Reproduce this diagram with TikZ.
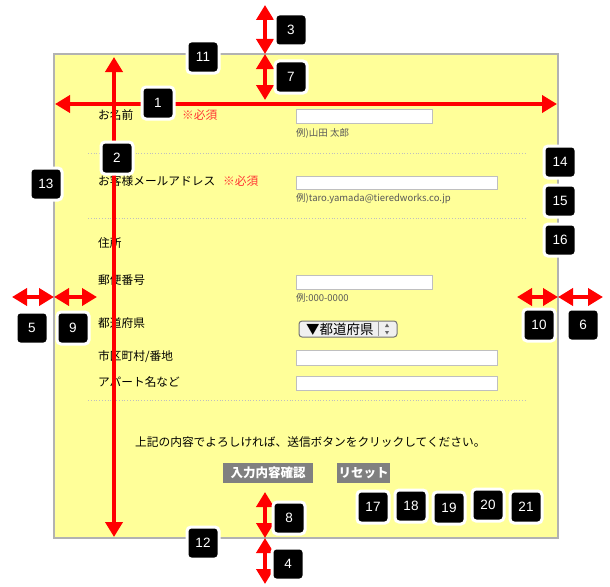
\documentclass[tikz,border=0pt]{standalone}
\usepackage{fontspec}
\setmainfont{Noto Sans CJK JP}
\setsansfont{Liberation Sans}
\usetikzlibrary{arrows.meta}

\tikzset{
  tag/.style={draw=white, line width=3pt, fill=black, rounded corners=4pt,
    minimum size=32pt, inner sep=0pt, text=white,
    font=\sffamily\fontsize{13.5}{14}\selectfont},
  dim/.style={red, line width=4pt,
    {Triangle[width=17pt,length=15pt]}-{Triangle[width=17pt,length=15pt]}},
  field/.style={draw=black!25, fill=white, line width=1pt},
  lbl/.style={anchor=west, inner sep=0pt, font=\fontsize{11.7}{12}\selectfont},
  must/.style={anchor=west, inner sep=0pt, text=red!80, font=\fontsize{11.7}{12}\selectfont},
  hint/.style={anchor=west, inner sep=0pt, text=black!65, font=\fontsize{9.5}{10}\selectfont},
  btn/.style={fill=black!50, text=white, inner sep=0pt, minimum height=20pt,
    font=\bfseries\fontsize{12.5}{13}\selectfont},
  sep/.style={black!25, dotted, line width=0.8pt},
}

\begin{document}
\begin{tikzpicture}[x=1pt, y=-1pt]
    \useasboundingbox (0,0) rectangle (610,586);

    % Panel
    \draw[fill={rgb,255:red,255;green,255;blue,153}, draw=black!30, line width=1.5pt] (54,54) rectangle (558,538);

    % Name
    \node[lbl] (name) at (98,115) {お名前};
    \node[must] (name req) at (182,115) {※必須};
    \draw[field] (296,109) rectangle (432,123);
    \node[hint] (name ex) at (296,133) {例)山田 太郎};
    \draw[sep] (88,153) -- (527,153);

    % Mail
    \node[lbl] (mail) at (98,181) {お客様メールアドレス};
    \node[must] (mail req) at (223,181) {※必須};
    \draw[field] (296,176) rectangle (497,189);
    \node[hint] (mail ex) at (296,199) {例)taro.yamada@tieredworks.co.jp};
    \draw[sep] (88,218) -- (527,218);

    % Address
    \node[lbl] (addr) at (98,243) {住所};
    \node[lbl] (zip) at (98,280) {郵便番号};
    \draw[field] (296,275) rectangle (432,289);
    \node[hint] (zip ex) at (296,298) {例:000-0000};
    \node[lbl] (pref) at (98,323) {都道府県};
    \draw[draw=black!55, fill=black!6, rounded corners=3pt, line width=1pt] (299,321) rectangle (397,337);
    \node[anchor=west, inner sep=0pt, font=\fontsize{13.5}{14}\selectfont] (pref box) at (306,329) {▼都道府県};
    \draw[black!40] (378,322) -- (378,336);
    \fill[black!60] (385,327) -- (389,327) -- (387,323.5) -- cycle;
    \fill[black!60] (385,331) -- (389,331) -- (387,334.5) -- cycle;
    \node[lbl] (city) at (98,357) {市区町村/番地};
    \draw[field] (296,350) rectangle (497,365);
    \node[lbl] (apt) at (98,382) {アパート名など};
    \draw[field] (296,376) rectangle (497,390);
    \draw[sep] (88,400) -- (527,400);

    % Message and buttons
    \node[lbl] (msg) at (135,442) {上記の内容でよろしければ、送信ボタンをクリックしてください。};
    \node[btn, minimum width=90pt] (confirm) at (268,473) {入力内容確認};
    \node[btn, minimum width=53pt] (reset) at (363.5,473) {リセット};

    % Arrows
    \draw[dim] (55,104) -- (557,104);
    \draw[dim] (114,57) -- (114,537);
    \draw[dim] (265,5) -- (265,54);
    \draw[dim] (265,54) -- (265,100);
    \draw[dim] (265,492) -- (265,538);
    \draw[dim] (265,538) -- (265,584);
    \draw[dim] (12,297) -- (54,297);
    \draw[dim] (54,297) -- (97,297);
    \draw[dim] (517,297) -- (558,297);
    \draw[dim] (558,297) -- (603,297);

    % Tags
    \foreach \n/\x/\y in {1/158/103, 2/117/158, 3/291/30, 4/288/564, 5/32/328,
        6/583/325, 7/291/77, 8/289/518, 9/73/328, 10/539/325, 11/203/57,
        12/203/543, 13/46/184, 14/560/162, 15/560/201, 16/560/240,
        17/373/507, 18/411/506, 19/449/508, 20/488/505, 21/526/507} {
        \node[tag] (t\n) at (\x,\y) {\n};
    }
\end{tikzpicture}
\end{document}
